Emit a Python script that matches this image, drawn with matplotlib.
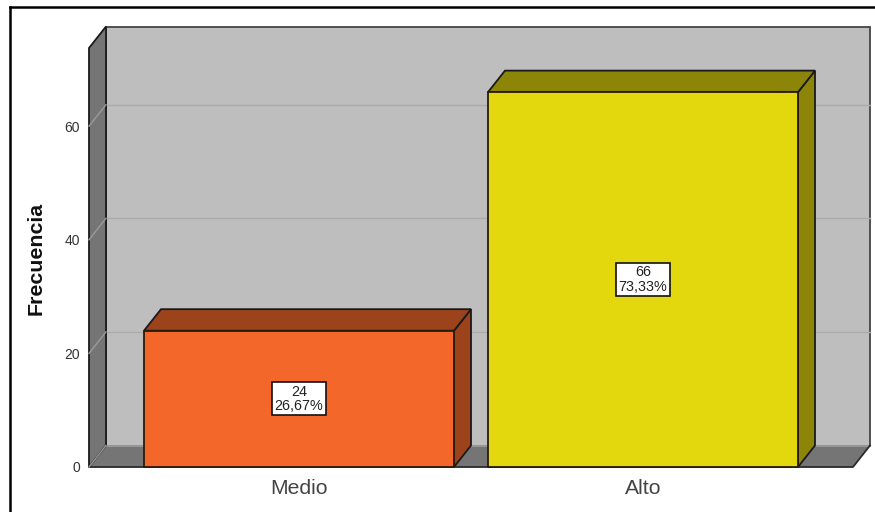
import matplotlib
matplotlib.use("Agg")
from matplotlib import pyplot as plt
from matplotlib.patches import Polygon

categories = ["Medio", "Alto"]
frequencies = [24, 66]
percent_labels = ["26,67%", "73,33%"]
y_ticks = [0, 20, 40, 60]

front_colors = ["#F4672A", "#E3D80D"]
top_colors = ["#9C431C", "#8D8508"]
wall_color = "#BEBEBE"
side_color = "#757575"
grid_color = "#ABABAB"

plt.rcParams["font.family"] = ["Liberation Sans", "DejaVu Sans"]

W, H = 875, 512
fig = plt.figure(figsize=(W / 100, H / 100), dpi=100)

# axes cover the front plane of the 3D box, in pixels of the reference
left, right, bottom, top = 89, 853, 467, 48
ax = fig.add_axes([left / W, 1 - bottom / H, (right - left) / W, (bottom - top) / H])
px_x = 344.0  # pixels per category
px_y = 5.68  # pixels per count
ax.set_xlim((left - 299) / px_x, (right - 299) / px_x)
ax.set_ylim(0, (bottom - top) / px_y)
ax.patch.set_visible(False)
for s in ax.spines.values():
    s.set_visible(False)

# depth of the box in data units
dx = 17 / px_x
dy = 21.5 / px_y
x0, x1 = ax.get_xlim()
y0, y1 = ax.get_ylim()


def poly(points, color, z, edge="#1A1A1A", lw=1.3):
    ax.add_patch(Polygon(points, closed=True, facecolor=color, edgecolor=edge,
                         linewidth=lw, zorder=z, clip_on=False, joinstyle="miter"))


def line(xv, yv, color, lw, z):
    ax.plot(xv, yv, color=color, lw=lw, zorder=z, clip_on=False)


# back wall and floor, the floor has no dark line along the back
poly([(x0 + dx, y0 + dy), (x1 + dx, y0 + dy), (x1 + dx, y1 + dy), (x0 + dx, y1 + dy)],
     wall_color, 1, edge="#444444")
poly([(x0, y0), (x1, y0), (x1 + dx, y0 + dy), (x0 + dx, y0 + dy)], side_color, 1.2,
     edge="none", lw=0)
line([x0 + dx, x1 + dx], [y0 + dy, y0 + dy], "#A0A0A0", 1.2, 1.22)
line([x0, x1, x1 + dx], [y0, y0, y0 + dy], "#2A2A2A", 1.3, 1.23)
poly([(x0, y0), (x0 + dx, y0 + dy), (x0 + dx, y1 + dy), (x0, y1)], side_color, 1.3)

# grid lines go along the back wall and down the left wall
for t in y_ticks[1:]:
    line([x0 + dx, x1 + dx], [t + dy, t + dy], grid_color, 1.0, 1.05)
    line([x0, x0 + dx], [t, t + dy], "#9A9A9A", 1.0, 1.35)
line([x0, x0 + dx], [0, dy], "#9A9A9A", 1.0, 1.35)

# bars
bar_w = 310 / px_x
xs = list(range(len(categories)))
ax.bar(xs, frequencies, width=bar_w, color=front_colors, edgecolor="#2A1A08",
       linewidth=1.3, zorder=4, clip_on=False)
for x, v, dark in zip(xs, frequencies, top_colors):
    a = x - bar_w / 2
    b = x + bar_w / 2
    poly([(b, 0), (b + dx, dy), (b + dx, v + dy), (b, v)], dark, 3)
    poly([(a, v), (b, v), (b + dx, v + dy), (a + dx, v + dy)], dark, 3)

# white boxes in the middle of each bar
for x, v, p in zip(xs, frequencies, percent_labels):
    ax.text(x, v / 2, f"{v}\n{p}", ha="center", va="center", fontsize=10.4,
            color="#222222", linespacing=1.02, zorder=6,
            bbox=dict(boxstyle="square,pad=0.17", facecolor="white",
                      edgecolor="#111111", linewidth=1.2))

ax.set_xticks(xs, categories)
ax.set_yticks(y_ticks)
ax.tick_params(axis="x", length=0, labelsize=15.2, pad=9, labelcolor="#444444")
ax.tick_params(axis="y", length=0, labelsize=10, pad=6.5, labelcolor="#333333")
fig.text(36 / W, 1 - 258.5 / H, "Frecuencia", rotation=90, ha="center", va="center",
         fontsize=15.4, fontweight="bold", color="#111111")

# black outer frame, only top and left are visible in the crop
fig.add_artist(plt.Line2D([10 / W, 10 / W], [0, 1 - 7 / H], color="black", lw=1.8))
fig.add_artist(plt.Line2D([10 / W, 1], [1 - 7 / H, 1 - 7 / H], color="black", lw=1.8))

fig.savefig("out.png", dpi=100)
